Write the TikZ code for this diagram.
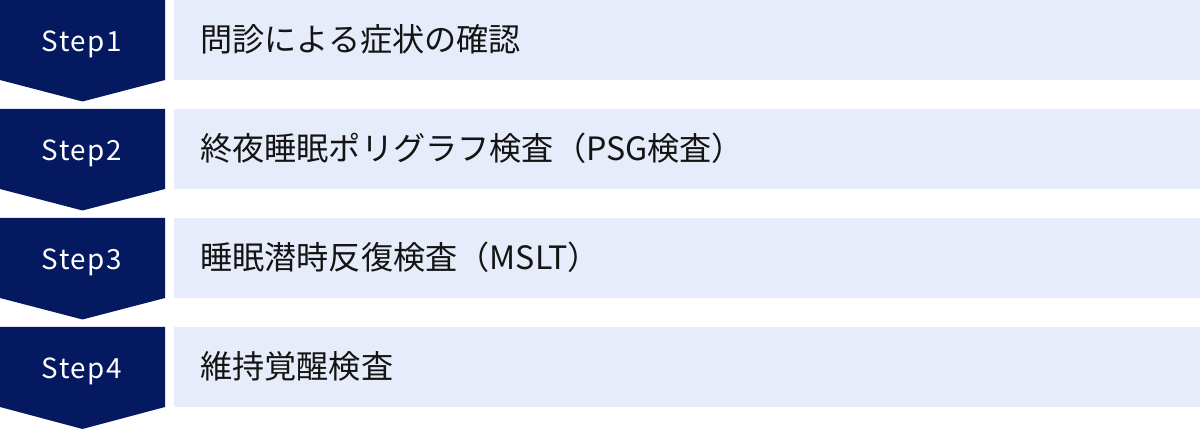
\documentclass[tikz,border=0pt]{standalone}
\usepackage{fontspec}
\setmainfont{Noto Sans CJK JP}
\newfontfamily\stepfont[LetterSpace=6]{Noto Sans CJK JP}
\definecolor{navy}{RGB}{4,25,95}
\definecolor{paleblue}{RGB}{230,236,249}
\definecolor{ink}{RGB}{20,20,20}
\tikzset{
  stepbox/.style={fill=navy},
  itembox/.style={fill=paleblue},
  steplabel/.style={anchor=base,text=white,inner sep=0pt,font=\stepfont\fontsize{15.8}{18}\selectfont},
  itemlabel/.style={anchor=base west,text=ink,inner sep=0pt,font=\fontsize{18.3}{21}\selectfont}
}
\begin{document}
\begin{tikzpicture}
    \useasboundingbox (0,0) rectangle (24,8.58);
    % step 1
    \fill[stepbox] (0,8.58) -- (3.3,8.58) -- (3.3,6.98) -- (1.65,6.55) -- (0,6.98) -- cycle;
    \fill[itembox] (3.48,6.98) rectangle (24,8.58);
    \node[steplabel] (s1) at (1.64,7.54) {Step1};
    \node[itemlabel] (t1) at (4.0,7.54) {問診による症状の確認};
    % step 2
    \fill[stepbox] (0,6.40) -- (3.3,6.40) -- (3.3,4.80) -- (1.65,4.37) -- (0,4.80) -- cycle;
    \fill[itembox] (3.48,4.80) rectangle (24,6.40);
    \node[steplabel] (s2) at (1.64,5.36) {Step2};
    \node[itemlabel] (t2) at (4.0,5.36) {終夜睡眠ポリグラフ検査（PSG検査）};
    % step 3
    \fill[stepbox] (0,4.22) -- (3.3,4.22) -- (3.3,2.62) -- (1.65,2.19) -- (0,2.62) -- cycle;
    \fill[itembox] (3.48,2.62) rectangle (24,4.22);
    \node[steplabel] (s3) at (1.64,3.18) {Step3};
    \node[itemlabel] (t3) at (4.0,3.18) {睡眠潜時反復検査（MSLT）};
    % step 4
    \fill[stepbox] (0,2.04) -- (3.3,2.04) -- (3.3,0.44) -- (1.65,0) -- (0,0.44) -- cycle;
    \fill[itembox] (3.48,0.44) rectangle (24,2.04);
    \node[steplabel] (s4) at (1.64,1.00) {Step4};
    \node[itemlabel] (t4) at (4.0,1.00) {維持覚醒検査};
\end{tikzpicture}
\end{document}
